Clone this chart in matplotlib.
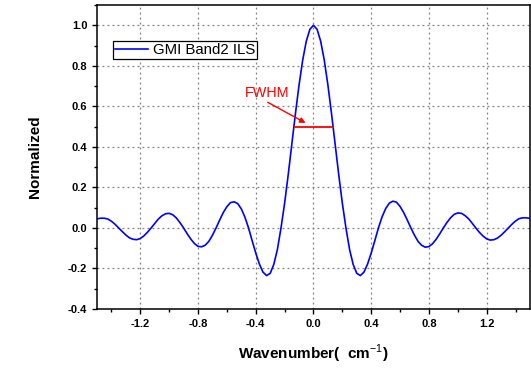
import numpy as np
import matplotlib
matplotlib.use("Agg")
import matplotlib.pyplot as plt
from matplotlib.ticker import MultipleLocator

plt.rcParams['font.family'] = ['Liberation Sans', 'DejaVu Sans']
plt.rcParams['mathtext.fontset'] = 'custom'
plt.rcParams['mathtext.rm'] = 'Liberation Sans'
plt.rcParams['mathtext.bf'] = 'Liberation Sans:bold'

# wavenumber sampling grid (cm^-1), 0.025 step
wavenumber = np.linspace(-1.5, 1.5, 121)

# normalized ILS
ils = [
    0.045, 0.048, 0.048, 0.044, 0.033, 0.018, 0.000, -0.018, -0.035, -0.049,
    -0.056, -0.058, -0.052, -0.039, -0.021, 0.000, 0.022, 0.044, 0.060, 0.070,
    0.072, 0.065, 0.049, 0.026, 0.000, -0.029, -0.055, -0.077, -0.091, -0.093,
    -0.085, -0.066, -0.036, 0.000, 0.039, 0.076, 0.105, 0.125, 0.129, 0.120,
    0.094, 0.053, 0.000, -0.063, -0.124, -0.178, -0.218, -0.235, -0.224, -0.180,
    -0.106, 0.000, 0.122, 0.263, 0.414, 0.564, 0.705, 0.827, 0.921, 0.980,
    1.000,
    0.980, 0.921, 0.827, 0.705, 0.564, 0.414, 0.263, 0.122, 0.000, -0.106,
    -0.180, -0.224, -0.235, -0.218, -0.178, -0.124, -0.063, 0.000, 0.054, 0.095,
    0.122, 0.132, 0.127, 0.106, 0.076, 0.039, 0.000, -0.036, -0.067, -0.086,
    -0.095, -0.092, -0.078, -0.056, -0.029, 0.000, 0.027, 0.050, 0.067, 0.074,
    0.072, 0.061, 0.045, 0.023, 0.000, -0.022, -0.040, -0.054, -0.060, -0.058,
    -0.050, -0.036, -0.019, 0.000, 0.018, 0.034, 0.046, 0.050, 0.050, 0.047,
]

# FWHM marker
fwhm_x = [-0.125, 0.132]
fwhm_y = [0.5, 0.5]

fig = plt.figure(figsize=(5.31, 3.68), dpi=100)
ax = fig.add_axes([0.1827, 0.1603, 0.8153, 0.8261])

ax.plot(wavenumber, ils, color='#0000ff', lw=1.2, label='GMI Band2 ILS')
ax.plot(fwhm_x, fwhm_y, color='#ff0000', lw=1.3)
ax.annotate('', xy=(-0.055, 0.518), xytext=(-0.317, 0.62),
            arrowprops=dict(arrowstyle='-|>', color='#ff0000', lw=1.0,
                            mutation_scale=8, shrinkA=0, shrinkB=0))
ax.text(-0.476, 0.666, 'FWHM', color='#ff0000', fontsize=10.4,
        ha='left', va='center')

ax.set_xlim(-1.5, 1.5)
ax.xaxis.set_minor_locator(MultipleLocator(0.2))
ax.yaxis.set_minor_locator(MultipleLocator(0.1))
ax.set_xticks([-1.2, -0.8, -0.4, 0.0, 0.4, 0.8, 1.2])
ax.set_xticklabels(['-1.2', '-0.8', '-0.4', '0.0', '0.4', '0.8', '1.2'])
ax.set_yticks([-0.4, -0.2, 0.0, 0.2, 0.4, 0.6, 0.8, 1.0])
ax.set_yticklabels(['-0.4', '-0.2', '0.0', '0.2', '0.4', '0.6', '0.8', '1.0'])
ax.set_ylim(-0.4, 1.1)

ax.grid(which='major', color='#808080', linestyle=(0, (1.5, 2.5)), lw=0.9)
ax.tick_params(which='major', direction='out', length=3.5, width=1,
               labelsize=8)
ax.tick_params(which='minor', direction='out', length=2, width=1)
for lbl in ax.get_xticklabels() + ax.get_yticklabels():
    lbl.set_fontweight('bold')
for s in ax.spines.values():
    s.set_linewidth(1.1)

ax.set_xlabel('Wavenumber(  cm$^{-1}$)', fontsize=11, fontweight='bold',
              labelpad=10)
ax.set_ylabel('Normalized', fontsize=11, fontweight='bold', labelpad=19)

leg = ax.legend(loc='upper left', bbox_to_anchor=(0.037, 0.882),
                fontsize=10.8, borderpad=0.15, handlelength=2.2,
                handletextpad=0.3, borderaxespad=0, fancybox=False,
                framealpha=1, edgecolor='black')
leg.get_frame().set_linewidth(0.9)

fig.savefig('out.png', dpi=100)
